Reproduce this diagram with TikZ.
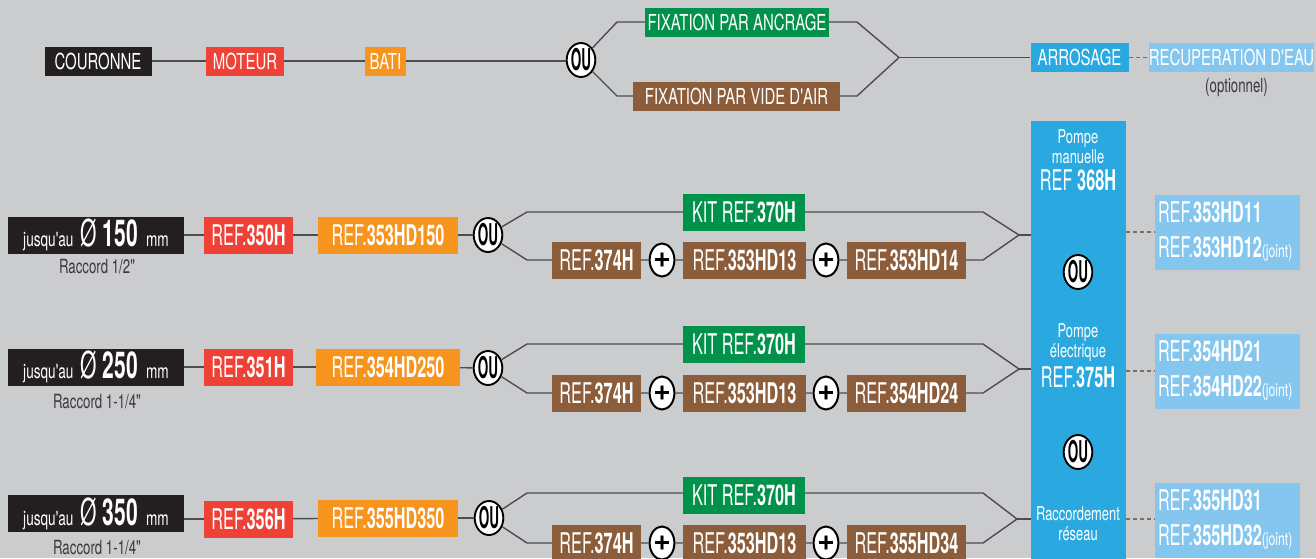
\documentclass[tikz,border=0pt]{standalone}
\usepackage{fontspec}
\setmainfont{TeX Gyre Heros}
\newfontfamily\condA{TeX Gyre Heros}[FakeStretch=0.68]
\newfontfamily\condB{TeX Gyre Heros}[FakeStretch=0.57]
\newfontfamily\condC{TeX Gyre Heros}[FakeStretch=0.45]
\usepackage{xcolor}
\definecolor{pagebg}{HTML}{CBCCCE}
\definecolor{cblack}{HTML}{231F20}
\definecolor{cred}{HTML}{EF4136}
\definecolor{corange}{HTML}{F7941D}
\definecolor{cgreen}{HTML}{00924A}
\definecolor{cbrown}{HTML}{8C5D3A}
\definecolor{cblue}{HTML}{29A9E0}
\definecolor{clight}{HTML}{84C6EE}
\definecolor{linegray}{HTML}{4D4D4F}
\definecolor{notegray}{HTML}{3A3A3C}
\newcommand{\tagfont}{\condA\fontsize{22}{24}\selectfont}
\newcommand{\boxfont}{\condB\fontsize{28.5}{35}\selectfont}
\newcommand{\notefont}{\condA\fontsize{19.5}{21}\selectfont}
\newcommand{\colfont}{\condA\fontsize{19}{20}\selectfont}
\newcommand{\oufont}{\condC\bfseries\fontsize{30}{32}\selectfont}
\newcommand{\plusfont}{\bfseries\fontsize{30}{32}\selectfont}
\newcommand{\refno}[1]{REF.\textbf{#1}}
\newcommand{\joint}{{\condA\fontsize{18}{19}\selectfont(joint)}}
\newcommand{\diam}[1]{{\condA\fontsize{20}{22}\selectfont jusqu'au}\hspace{7pt}{\condB\fontsize{37}{39}\selectfont Ø\hspace{6pt}\textbf{#1}}\hspace{8pt}{\condA\fontsize{20}{22}\selectfont mm}}
\usetikzlibrary{shapes.geometric}

\begin{document}
\begin{tikzpicture}[x=1pt,y=-1pt,
                    tag/.style={inner sep=0pt,minimum height=29,text=white,font=\tagfont},
                    box/.style={inner sep=0pt,minimum height=37,text=white,font=\boxfont},
                    ou/.style={ellipse,draw=black,line width=1.9,fill=white,minimum width=25,minimum height=34,inner sep=0pt,font=\oufont},
                    plus/.style={ellipse,draw=black,line width=2,fill=white,minimum width=23,minimum height=33,inner sep=0pt,font=\plusfont},
                    note/.style={inner sep=0pt,text=notegray,font=\notefont},
                    coltxt/.style={inner sep=0pt,text=white,font=\colfont,align=center},
                    lbox/.style={fill=clight,text=white,font=\boxfont,align=left,text width=139,inner sep=3,minimum height=75},
                    edge/.style={line width=1.4,draw=linegray},
                    dashline/.style={line width=1.4,draw=linegray!80,dash pattern=on 4pt off 3pt}]
  \useasboundingbox (0,0) rectangle (1316,558);
  \clip (0,0) rectangle (1316,558);
  \fill[pagebg] (0,0) rectangle (1316,558);

  \node[tag,fill=cblack,minimum width=107] (couronne) at (98,61) {COURONNE};
  \node[tag,fill=cred,minimum width=78] (moteur) at (245,61) {MOTEUR};
  \node[tag,fill=corange,minimum width=41] (bati) at (385.5,61) {BATI};
  \node[ou] (ou0) at (581,60) {OU};
  \coordinate (a1) at (617,22);
  \coordinate (a2) at (617,96);
  \node[tag,fill=cgreen,minimum width=184] (ancrage) at (737,22) {FIXATION PAR ANCRAGE};
  \node[tag,fill=cbrown,minimum width=207] (vide) at (736.5,96) {FIXATION PAR VIDE D'AIR};
  \coordinate (a3) at (857,22);
  \coordinate (a4) at (857,96);
  \coordinate (a5) at (899,57.5);
  \node[tag,fill=cblue,minimum width=98] (arrosage) at (1079.5,57.5) {ARROSAGE};
  \node[tag,fill=clight,minimum width=163] (recup) at (1231.5,57.5) {RECUPERATION D'EAU};
  \node[note] (optionnel) at (1236.5,88) {(optionnel)};

  \node[fill=cblue,minimum width=95,minimum height=440,inner sep=0pt] (col) at (1078.5,341) {};
  \node[coltxt] (pm) at (1078,147) {Pompe\\manuelle};
  \node[coltxt,font=\boxfont] (pmref) at (1078,180) {REF\,\textbf{368H}};
  \node[ou] (ouc1) at (1078,272) {OU};
  \node[coltxt] (pe) at (1078,343) {Pompe\\électrique};
  \node[coltxt,font=\boxfont] (peref) at (1078,377) {\refno{375H}};
  \node[ou] (ouc2) at (1078,452) {OU};
  \node[coltxt] (rr) at (1078,524) {Raccordement\\réseau};

  \node[box,fill=cblack,minimum width=176] (dia1) at (96,235) {\diam{150}};
  \node[note] (rac1) at (97,267) {Raccord 1/2"};
  \node[box,fill=cred,minimum width=89] (r350h) at (248.5,235) {\refno{350H}};
  \node[box,fill=corange,minimum width=140] (r353hd150) at (388,235) {\refno{353HD150}};
  \node[ou] (ou1) at (488,235) {OU};
  \coordinate (u1a) at (527,212);
  \coordinate (l1a) at (527,260);
  \node[box,fill=cgreen,minimum width=122] (kit1) at (744,212) {KIT \refno{370H}};
  \node[box,fill=cbrown,minimum width=89] (r374h1) at (596.5,260) {\refno{374H}};
  \node[plus] (plus1a) at (662,260) {+};
  \node[box,fill=cbrown,minimum width=123] (r353hd13a) at (744.5,260) {\refno{353HD13}};
  \node[plus] (plus1b) at (826,260) {+};
  \node[box,fill=cbrown,minimum width=119] (r353hd14) at (906.5,260) {\refno{353HD14}};
  \coordinate (u1b) at (983,212);
  \coordinate (l1b) at (983,260);
  \coordinate (v1) at (1019,235);
  \node[lbox] (lb1) at (1227.5,232) {\refno{353HD11}\\\refno{353HD12}\joint};

  \node[box,fill=cblack,minimum width=176] (dia2) at (96,367) {\diam{250}};
  \node[note] (rac2) at (97,402) {Raccord 1-1/4"};
  \node[box,fill=cred,minimum width=89] (r351h) at (248.5,367) {\refno{351H}};
  \node[box,fill=corange,minimum width=144] (r354hd250) at (388,367) {\refno{354HD250}};
  \node[ou] (ou2) at (488,368) {OU};
  \coordinate (u2a) at (527,344);
  \coordinate (l2a) at (527,393);
  \node[box,fill=cgreen,minimum width=122] (kit2) at (744,344) {KIT \refno{370H}};
  \node[box,fill=cbrown,minimum width=89] (r374h2) at (596.5,393) {\refno{374H}};
  \node[plus] (plus2a) at (662,393) {+};
  \node[box,fill=cbrown,minimum width=123] (r353hd13b) at (744.5,393) {\refno{353HD13}};
  \node[plus] (plus2b) at (826,393) {+};
  \node[box,fill=cbrown,minimum width=119] (r354hd24) at (906.5,393) {\refno{354HD24}};
  \coordinate (u2b) at (983,344);
  \coordinate (l2b) at (983,393);
  \coordinate (v2) at (1019,369);
  \node[lbox] (lb2) at (1227.5,371) {\refno{354HD21}\\\refno{354HD22}\joint};

  \node[box,fill=cblack,minimum width=176] (dia3) at (96,513.5) {\diam{350}};
  \node[note] (rac3) at (97,548) {Raccord 1-1/4"};
  \node[box,fill=cred,minimum width=89] (r356h) at (248.5,519) {\refno{356H}};
  \node[box,fill=corange,minimum width=140] (r355hd350) at (388,518) {\refno{355HD350}};
  \node[ou] (ou3) at (489,518) {OU};
  \coordinate (u3a) at (527,493);
  \coordinate (l3a) at (527,543);
  \node[box,fill=cgreen,minimum width=122] (kit3) at (744,495) {KIT \refno{370H}};
  \node[box,fill=cbrown,minimum width=89] (r374h3) at (596.5,543) {\refno{374H}};
  \node[plus] (plus3a) at (662,543) {+};
  \node[box,fill=cbrown,minimum width=123] (r353hd13c) at (744.5,543) {\refno{353HD13}};
  \node[plus] (plus3b) at (826,543) {+};
  \node[box,fill=cbrown,minimum width=119] (r355hd34) at (906.5,543) {\refno{355HD34}};
  \coordinate (u3b) at (983,493);
  \coordinate (l3b) at (983,543);
  \coordinate (v3) at (1017,519);
  \node[lbox] (lb3) at (1227.5,520) {\refno{355HD31}\\\refno{355HD32}\joint};

  \draw[edge] (couronne) -- (moteur);
  \draw[edge] (moteur) -- (bati);
  \draw[edge] (bati) -- (bati -| ou0.west);
  \draw[edge] (ou0) -- (a1) -- (ancrage) -- (a3) -- (a5);
  \draw[edge] (ou0) -- (a2) -- (vide) -- (a4) -- (a5);
  \draw[edge] (a5) -- (arrosage);
  \draw[dashline] (arrosage) -- (recup);

  \draw[edge] (dia1) -- (r350h);
  \draw[edge] (r350h) -- (r353hd150);
  \draw[edge] (r353hd150) -- (ou1);
  \draw[edge] (ou1) -- (u1a) -- (kit1) -- (u1b) -- (v1);
  \draw[edge] (ou1) -- (l1a) -- (r374h1) -- (plus1a) -- (r353hd13a) -- (plus1b) -- (r353hd14) -- (l1b) -- (v1);
  \draw[edge] (v1) -- (v1 -| col.west);
  \draw[dashline] (col.east |- lb1) -- (lb1);

  \draw[edge] (dia2) -- (r351h);
  \draw[edge] (r351h) -- (r354hd250);
  \draw[edge] (r354hd250) -- (ou2);
  \draw[edge] (ou2) -- (u2a) -- (kit2) -- (u2b) -- (v2);
  \draw[edge] (ou2) -- (l2a) -- (r374h2) -- (plus2a) -- (r353hd13b) -- (plus2b) -- (r354hd24) -- (l2b) -- (v2);
  \draw[edge] (v2) -- (v2 -| col.west);
  \draw[dashline] (col.east |- lb2) -- (lb2);

  \draw[edge] (r356h) -- (r356h -| dia3.east);
  \draw[edge] (r356h) -- (r355hd350);
  \draw[edge] (r355hd350) -- (ou3);
  \draw[edge] (ou3) -- (u3a) -- (kit3.west |- u3a);
  \draw[edge] (kit3.east |- u3b) -- (u3b) -- (v3);
  \draw[edge] (ou3) -- (l3a) -- (r374h3) -- (plus3a) -- (r353hd13c) -- (plus3b) -- (r355hd34) -- (l3b) -- (v3);
  \draw[edge] (v3) -- (v3 -| col.west);
  \draw[dashline] (col.east |- v3) -- (v3 -| lb3.west);
\end{tikzpicture}
\end{document}
